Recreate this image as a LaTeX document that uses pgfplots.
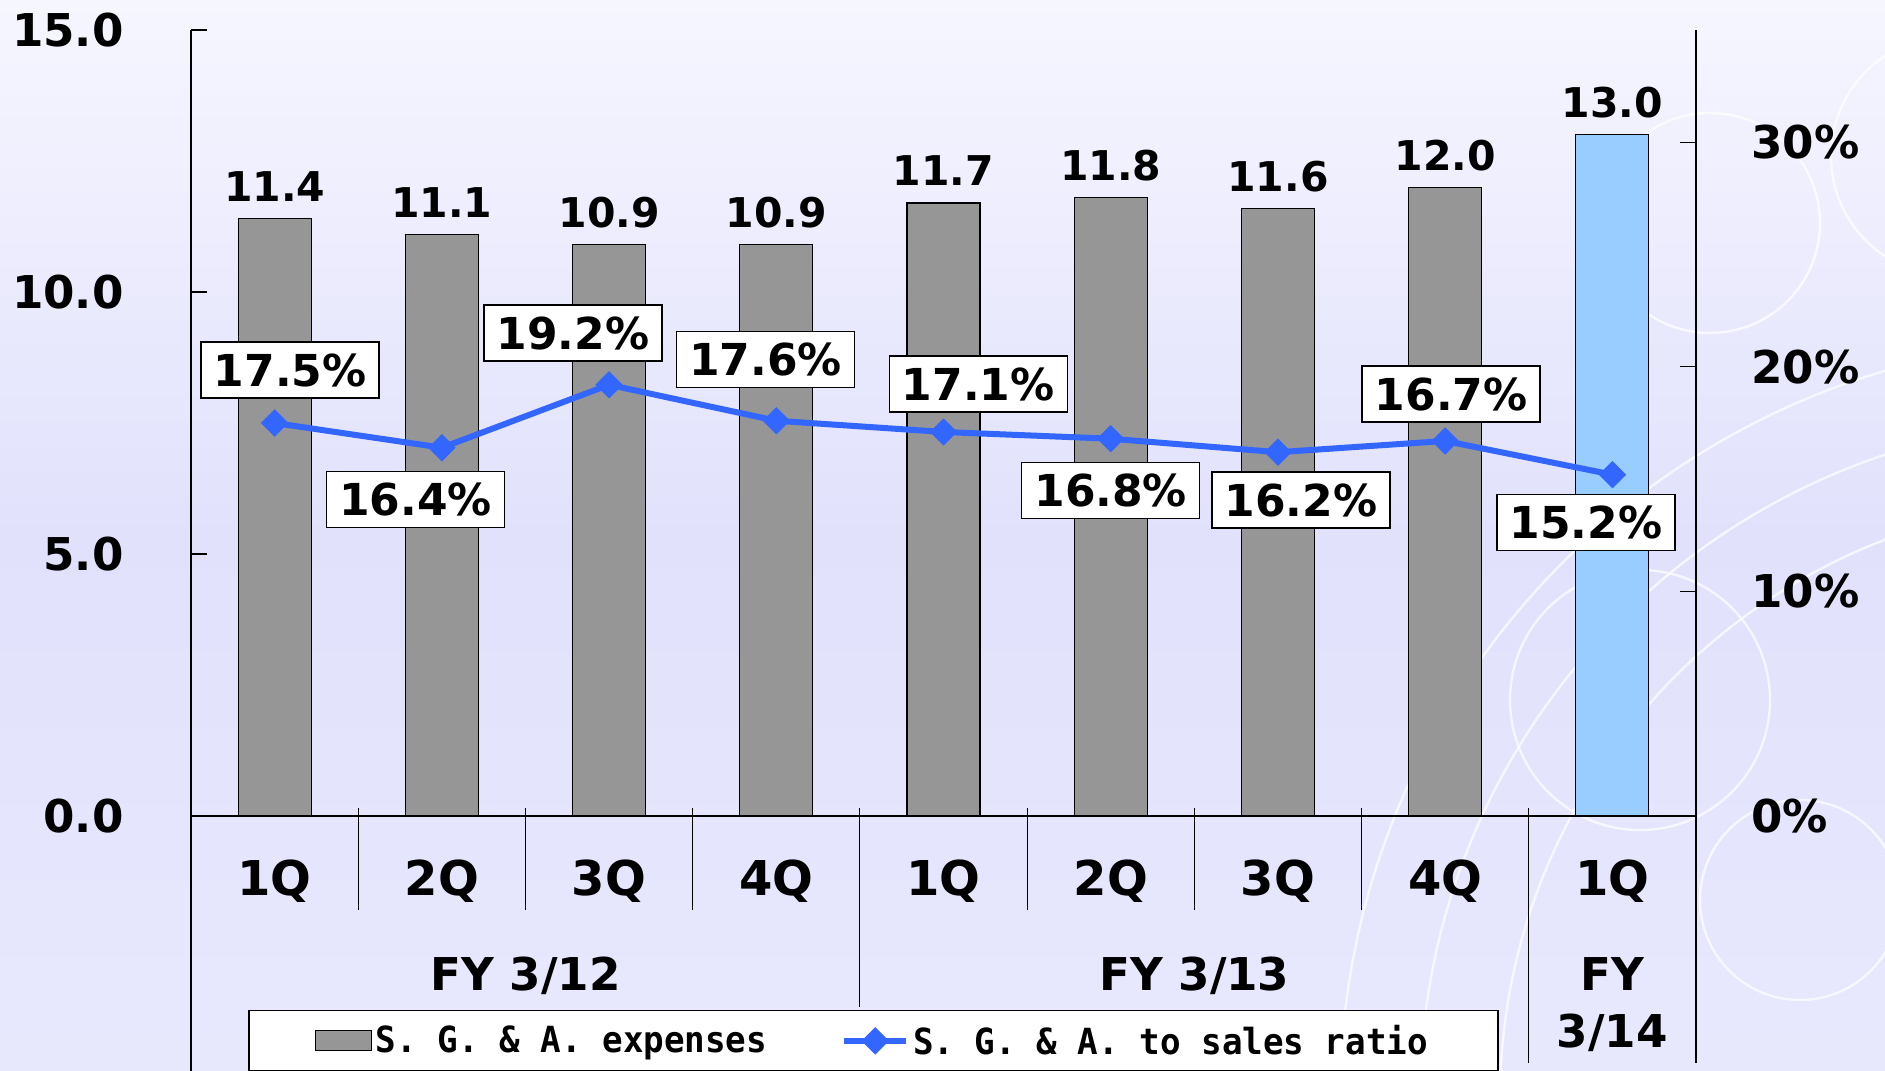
\documentclass[border=0pt]{standalone}
\usepackage{pgfplots}
\pgfplotsset{compat=1.18}
\usepackage{pgfplotstable}
\usepackage{fontspec}
\setmainfont{DejaVu Sans}
\newfontfamily\legfont{DejaVu Sans Mono}
\definecolor{bargray}{HTML}{969696}
\definecolor{barblue}{HTML}{99CCFF}
\definecolor{linblue}{HTML}{3366FF}
\definecolor{bgtop}{HTML}{F6F6FF}
\definecolor{bgmid}{HTML}{E1E1FC}
\definecolor{bgbot}{HTML}{E8E8FD}

\pgfplotsset{linelegend/.style={legend image code/.code={\draw[##1, mark repeat=2, mark phase=2] plot coordinates {(0pt,0pt) (15.5pt,0pt) (31pt,0pt)};}}}

\pgfplotstableread{
x y lbl
0 11.4 11.4
1 11.1 11.1
2 10.9 10.9
3 10.9 10.9
4 11.7 11.7
5 11.8 11.8
6 11.6 11.6
7 12.0 12.0
}\sgaq
\pgfplotstableread{
x y lbl
8 13.0 13.0
}\sgalast
\pgfplotstableread{
x y
0 17.5
1 16.4
2 19.2
3 17.6
4 17.1
5 16.8
6 16.2
7 16.7
8 15.2
}\ratio

\pgfplotsset{rlabel/.style 2 args={every node near coord/.append style={anchor=center, xshift=#1, yshift=#2, draw=black, line width=0.75pt,
      fill=white, minimum width=89pt, minimum height=28pt, inner sep=0pt,
      font=\bfseries\fontsize{22}{22}\selectfont, text=black}}}
\newcommand\legtext[1]{\scalebox{0.95}[1]{\legfont\bfseries\fontsize{18}{18}\selectfont #1}}

\begin{document}
\begin{tikzpicture}
\useasboundingbox (-95.5pt,-127.5pt) rectangle (847pt,408pt);
\clip (-95.5pt,-127.5pt) rectangle (847pt,408pt);
\shade[top color=bgtop, bottom color=bgbot, middle color=bgmid] (-95.5pt,-127.5pt) rectangle (847pt,408pt);
\begin{scope}[white, line width=1.2pt, opacity=0.7]
  \draw (759.5pt,296.5pt) circle (55pt);
  \draw (724.5pt,58pt) circle (65pt);
  \draw (804.5pt,-42pt) circle (50pt);
  \draw (954.5pt,-142pt) circle (300pt);
  \draw (954.5pt,-142pt) circle (340pt);
  \draw (954.5pt,-142pt) circle (380pt);
  \draw (880pt,330pt) circle (60pt);
\end{scope}

\begin{axis}[
  at={(0,0)}, anchor=south west,
  width=752.5pt, height=393pt, scale only axis,
  xmin=-0.5, xmax=8.5, ymin=0, ymax=15,
  axis x line*=bottom, axis y line*=left,
  axis line style={-, line width=0.6pt, black},
  xtick={0,...,8},
  xticklabels={1Q,2Q,3Q,4Q,1Q,2Q,3Q,4Q,1Q},
  xtick style={draw=none},
  xticklabel style={anchor=base, yshift=-39.5pt, font=\bfseries\fontsize{24}{24}\selectfont},
  ytick={0,5,10,15},
  yticklabels={0.0,5.0,10.0,15.0},
  ytick style={line width=0.6pt, black},
  tick align=inside,
  major tick length=8pt,
  yticklabel style={anchor=east, inner sep=0pt, xshift=-33.5pt, font=\bfseries\fontsize{22.6}{24}\selectfont},
  clip=false,
  nodes near coords={\pgfplotspointmeta}, point meta=explicit symbolic,
  every node near coord/.append style={anchor=base, yshift=8.5pt, font=\bfseries\fontsize{20.5}{22}\selectfont, text=black},
]
\addplot[ybar, bar width=36.5pt, fill=bargray, draw=black, line width=0.6pt] table[x=x,y=y,meta=lbl]{\sgaq};
\addplot[ybar, bar width=36.5pt, fill=barblue, draw=black, line width=0.6pt] table[x=x,y=y,meta=lbl]{\sgalast};
\end{axis}

\begin{axis}[
  at={(0,0)}, anchor=south west,
  width=752.5pt, height=393pt, scale only axis,
  xmin=-0.5, xmax=8.5, ymin=0, ymax=35,
  axis x line=none, axis y line*=right,
  axis line style={-, line width=0.6pt, black},
  ytick={0,10,20,30}, yticklabels={0\%,10\%,20\%,30\%},
  tick align=inside, major tick length=8pt,
  ytick style={line width=0.6pt, black},
  yticklabel style={anchor=west, inner sep=0pt, xshift=27.5pt, font=\bfseries\fontsize{22.6}{24}\selectfont},
  clip=false,
  legend columns=2,
  legend style={at={(0.0379,-0.2468)}, anchor=north west, draw=black, line width=0.75pt, fill=white,
    inner xsep=33pt, inner ysep=5pt, /tikz/every even column/.append style={column sep=35pt}},
]
\addlegendimage{legend image code/.code={\draw[fill=bargray, draw=black, line width=0.6pt] (0pt,-5pt) rectangle (28pt,5pt);}}
\addlegendentry{\legtext{S. G. \& A. expenses}}
\addplot[linblue, line width=3pt, mark=square*, mark size=4.6pt,
  mark options={rotate=45, fill=linblue, draw=linblue, line width=0.5pt}, linelegend
] table[x=x,y=y]{\ratio};
\addlegendentry{\legtext{S. G. \& A. to sales ratio}}
\addplot[forget plot, draw=none, nodes near coords={17.5\%}, rlabel={7.8pt}{26.5pt}] coordinates {(0,17.5)};
\addplot[forget plot, draw=none, nodes near coords={16.4\%}, rlabel={-13.2pt}{-25.8pt}] coordinates {(1,16.4)};
\addplot[forget plot, draw=none, nodes near coords={19.2\%}, rlabel={-18pt}{25.8pt}] coordinates {(2,19.2)};
\addplot[forget plot, draw=none, nodes near coords={17.6\%}, rlabel={-5.4pt}{30.7pt}] coordinates {(3,17.6)};
\addplot[forget plot, draw=none, nodes near coords={17.1\%}, rlabel={17.4pt}{24pt}] coordinates {(4,17.1)};
\addplot[forget plot, draw=none, nodes near coords={16.8\%}, rlabel={0pt}{-25.8pt}] coordinates {(5,16.8)};
\addplot[forget plot, draw=none, nodes near coords={16.2\%}, rlabel={11.4pt}{-24pt}] coordinates {(6,16.2)};
\addplot[forget plot, draw=none, nodes near coords={16.7\%}, rlabel={3pt}{23.4pt}] coordinates {(7,16.7)};
\addplot[forget plot, draw=none, nodes near coords={15.2\%}, rlabel={-13.2pt}{-24pt}] coordinates {(8,15.2)};
\end{axis}

\begin{scope}[line width=0.6pt, black]
  \draw (0pt,0pt) -- (0pt,-127.5pt);
  \draw (752.5pt,0pt) -- (752.5pt,-123.5pt);
  \foreach \xx in {83.61,167.22,250.83,418.06,501.67,585.28} {\draw (\xx pt,4pt) -- (\xx pt,-47pt);}
  \draw (334.44pt,4pt) -- (334.44pt,-95.5pt);
  \draw (668.89pt,4pt) -- (668.89pt,-123.5pt);
\end{scope}
\begin{scope}[font=\bfseries\fontsize{22.6}{24}\selectfont]
  \node[anchor=base] at (167.22pt,-87pt) {FY 3/12};
  \node[anchor=base] at (501.67pt,-87pt) {FY 3/13};
  \node[anchor=base] at (710.7pt,-87pt) {FY};
  \node[anchor=base] at (710.7pt,-115.5pt) {3/14};
\end{scope}
\end{tikzpicture}
\end{document}
